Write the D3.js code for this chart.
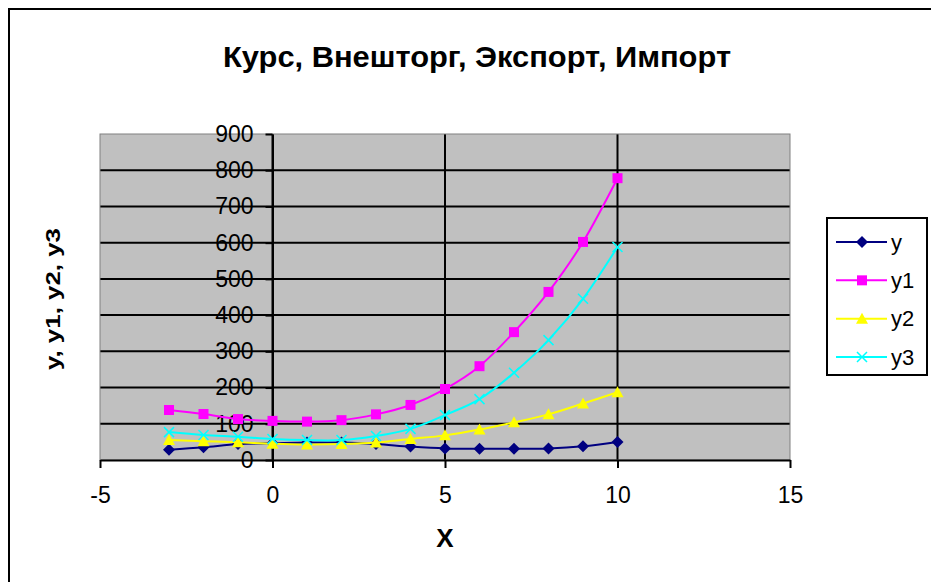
<!DOCTYPE html>
<html>
<head>
<meta charset="utf-8">
<script src="https://cdn.jsdelivr.net/npm/d3@7"></script>
<style>
  body { margin: 0; background: #fff; }
  svg { display: block; font-family: Arial, "Liberation Sans", sans-serif; }
</style>
</head>
<body>
<div id="chart"></div>
<script>
(function() {

    var width = 931;
    var height = 582;

    // data
    var xs = [-3, -2, -1, 0, 1, 2, 3, 4, 5, 6, 7, 8, 9, 10];
    var yVals  = [28, 35, 44, 46, 48, 48, 44, 37, 32, 31, 31, 32, 38, 50];
    var y1Vals = [138, 127, 113, 108, 106, 110, 126, 152, 196, 259, 353, 464, 602, 778];
    var y2Vals = [55, 52, 49, 45, 43, 44, 48, 58, 68, 84, 104, 126, 156, 187];
    var y3Vals = [77, 69, 64, 58, 55, 55, 66, 86, 124, 168, 241, 331, 445, 588];
    var seriesNames = ["y", "y1", "y2", "y3"];
    var xTicks = [-5, 0, 5, 10, 15];
    var yTicks = [0, 100, 200, 300, 400, 500, 600, 700, 800, 900];

    var title = "Курс, Внешторг, Экспорт, Импорт";
    var yTitle = "y, y1, y2, y3";
    var xTitle = "X";

    var colors = ["#000080", "#FF00FF", "#FFFF00", "#00FFFF"];
    var shapes = ["diamond", "square", "triangle", "cross"];
    var allVals = [yVals, y1Vals, y2Vals, y3Vals];

    var series = seriesNames.map(function(name, i) {
        return {
            name: name,
            color: colors[i],
            shape: shapes[i],
            points: xs.map(function(x, j) { return {x: x, v: allVals[i][j]}; })
        };
    });

    var plot = {left: 100, right: 790, top: 134, bottom: 460};

    var x = d3.scaleLinear().domain([-5, 15]).range([plot.left, plot.right]);
    var y = d3.scaleLinear().domain([0, 900]).range([plot.bottom, plot.top]);

    var svg = d3.select("#chart")
        .append("svg")
        .attr("width", width)
        .attr("height", height);

    // chart border
    svg.append("rect")
        .attr("x", 9).attr("y", 9)
        .attr("width", width + 20).attr("height", height + 20)
        .attr("fill", "#fff")
        .attr("stroke", "#000")
        .attr("stroke-width", 2);

    // plot area
    svg.append("rect")
        .attr("x", plot.left).attr("y", plot.top)
        .attr("width", plot.right - plot.left)
        .attr("height", plot.bottom - plot.top)
        .attr("fill", "#C0C0C0");

    // gridlines
    svg.append("g").selectAll("line")
        .data(yTicks.slice(1, -1))
        .enter().append("line")
        .attr("x1", plot.left).attr("x2", plot.right)
        .attr("y1", d => y(d)).attr("y2", d => y(d))
        .attr("stroke", "#000").attr("stroke-width", 2);

    svg.append("g").selectAll("line")
        .data(xTicks.slice(1, -1))
        .enter().append("line")
        .attr("x1", d => x(d)).attr("x2", d => x(d))
        .attr("y1", plot.top).attr("y2", plot.bottom)
        .attr("stroke", "#000").attr("stroke-width", 2);

    svg.append("rect")
        .attr("x", plot.left).attr("y", plot.top)
        .attr("width", plot.right - plot.left)
        .attr("height", plot.bottom - plot.top)
        .attr("fill", "none")
        .attr("stroke", "#808080")
        .attr("stroke-width", 1);

    // axes
    var xAxis = svg.append("g")
        .attr("transform", "translate(0," + y(0) + ")")
        .call(d3.axisBottom(x).tickValues(xTicks).tickFormat(d => String(d))
            .tickSize(8).tickPadding(19).tickSizeOuter(0));

    var yAxis = svg.append("g")
        .attr("transform", "translate(" + x(0) + ",0)")
        .call(d3.axisLeft(y).tickValues(yTicks).tickFormat(d => String(d))
            .tickSize(7).tickPadding(12).tickSizeOuter(0));

    [xAxis, yAxis].forEach(function(a) {
        a.select(".domain").attr("stroke", "#000").attr("stroke-width", 2);
        a.selectAll(".tick line").attr("stroke", "#000").attr("stroke-width", 2);
        a.selectAll(".tick text")
            .attr("fill", "#000")
            .attr("font-size", 23)
            .attr("font-family", "Arial, 'Liberation Sans', sans-serif");
    });

    // series lines
    var line = d3.line()
        .x(d => x(d.x))
        .y(d => y(d.v))
        .curve(d3.curveCatmullRom.alpha(0));

    var markerPath = {
        diamond: "M0,-6L6,0L0,6L-6,0Z",
        square: "M-5,-5H5V5H-5Z",
        triangle: "M0,-6L6,5H-6Z",
        cross: "M-5,-5L5,5M-5,5L5,-5"
    };

    var drawMarker = function(g, s, px, py) {
        var p = g.append("path")
            .attr("d", markerPath[s.shape])
            .attr("transform", "translate(" + px + "," + py + ")");
        if (s.shape === "cross") {
            p.attr("stroke", s.color).attr("stroke-width", 1.5).attr("fill", "none");
        } else {
            p.attr("fill", s.color);
        }
    };

    series.forEach(function(s) {
        var g = svg.append("g");
        g.append("path")
            .datum(s.points)
            .attr("d", line)
            .attr("fill", "none")
            .attr("stroke", s.color)
            .attr("stroke-width", 2);
        s.points.forEach(function(p) {
            drawMarker(g, s, x(p.x), y(p.v));
        });
    });

    // titles
    svg.append("text")
        .attr("x", 477).attr("y", 67)
        .attr("text-anchor", "middle")
        .attr("font-size", 30)
        .attr("font-weight", "bold")
        .attr("textLength", 508)
        .attr("lengthAdjust", "spacingAndGlyphs")
        .text(title);

    svg.append("text")
        .attr("transform", "translate(60,299) rotate(-90)")
        .attr("text-anchor", "middle")
        .attr("font-size", 21)
        .attr("font-weight", "bold")
        .attr("textLength", 142)
        .attr("lengthAdjust", "spacingAndGlyphs")
        .text(yTitle);

    svg.append("text")
        .attr("x", 445).attr("y", 547)
        .attr("text-anchor", "middle")
        .attr("font-size", 26)
        .attr("font-weight", "bold")
        .text(xTitle);

    // legend
    var legend = svg.append("g");
    legend.append("rect")
        .attr("x", 827).attr("y", 218)
        .attr("width", 100).attr("height", 157)
        .attr("fill", "#fff")
        .attr("stroke", "#000")
        .attr("stroke-width", 2);

    var rowY = d3.scalePoint().domain(seriesNames).range([242, 357]);

    series.forEach(function(s) {
        var ry = rowY(s.name);
        legend.append("line")
            .attr("x1", 836).attr("x2", 887)
            .attr("y1", ry).attr("y2", ry)
            .attr("stroke", s.color)
            .attr("stroke-width", 2);
        drawMarker(legend, s, 862, ry);
        legend.append("text")
            .attr("x", 891).attr("y", ry)
            .attr("dy", "0.35em")
            .attr("font-size", 22)
            .text(s.name);
    });

})();
</script>
</body>
</html>
